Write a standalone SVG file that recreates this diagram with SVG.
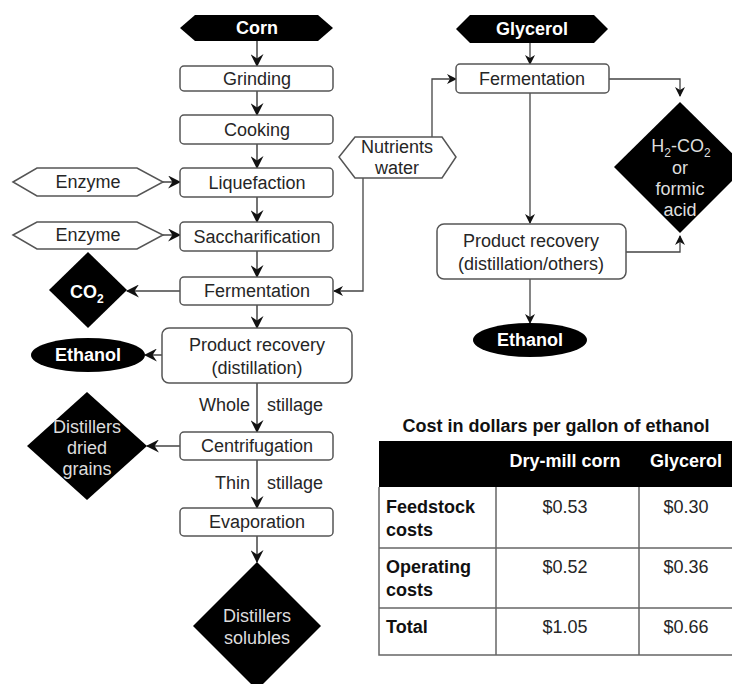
<svg xmlns="http://www.w3.org/2000/svg" width="732" height="684" viewBox="0 0 732 684">
<style>
text{font-family:"Liberation Sans",Arial,sans-serif;font-size:18px;fill:#262626;}
.c{text-anchor:middle;}
.w{fill:#fff;font-weight:bold;}
.g{fill:#ddd;}
.b{font-weight:bold;fill:#111;}
.box{fill:#fff;stroke:#555;stroke-width:1.5;}
.blk{fill:#000;stroke:none;}
.hex{fill:#fff;stroke:#555;stroke-width:1.5;}
.lnb{fill:none;stroke:#444;stroke-width:1.5;marker-end:url(#big);}
.lns{fill:none;stroke:#444;stroke-width:1.3;marker-end:url(#sm);}
.tb{fill:none;stroke:#666;stroke-width:1.5;}
</style>
<defs>
<marker id="big" viewBox="0 0 12 12" refX="11" refY="6" markerWidth="13" markerHeight="13" markerUnits="userSpaceOnUse" orient="auto">
<path d="M0,0 L12,6 L0,12 L4,6 z" fill="#111"/>
</marker>
<marker id="sm" viewBox="0 0 10 10" refX="9" refY="5" markerWidth="10" markerHeight="10" markerUnits="userSpaceOnUse" orient="auto">
<path d="M0,0 L10,5 L0,10 L3,5 z" fill="#111"/>
</marker>
</defs>

<g id="connectors">
<line class="lnb" x1="257" y1="41" x2="257" y2="66"/>
<line class="lnb" x1="257" y1="91" x2="257" y2="115"/>
<line class="lnb" x1="257" y1="144" x2="257" y2="168"/>
<line class="lnb" x1="257" y1="197" x2="257" y2="222"/>
<line class="lnb" x1="257" y1="251" x2="257" y2="277"/>
<line class="lnb" x1="257" y1="305" x2="257" y2="328"/>
<line class="lnb" x1="257" y1="383" x2="257" y2="432"/>
<line class="lnb" x1="257" y1="460" x2="257" y2="508"/>
<line class="lnb" x1="257" y1="536" x2="257" y2="562"/>
<line class="lnb" x1="163" y1="182" x2="180" y2="182"/>
<line class="lnb" x1="163" y1="235" x2="180" y2="235"/>
<line class="lnb" x1="180" y1="291" x2="127" y2="291"/>
<line class="lnb" x1="162" y1="355" x2="145" y2="355"/>
<line class="lnb" x1="180" y1="446" x2="147" y2="446"/>
<polyline class="lns" points="432,137 432,79 456,79"/>
<polyline class="lns" points="363,178 363,291 334,291"/>
<line class="lns" x1="530" y1="43" x2="530" y2="64"/>
<line class="lns" x1="530" y1="93" x2="530" y2="223"/>
<line class="lns" x1="530" y1="279" x2="530" y2="323"/>
<polyline class="lns" points="609,79 680,79 680,96"/>
<polyline class="lns" points="626,252 680,252 680,236"/>
</g>

<g id="corn">
<polygon class="blk" points="180,28 195,15 318,15 333,28 318,41 195,41"/>
<text class="c w" x="257" y="34">Corn</text>
</g>
<g id="grinding">
<rect class="box" x="180" y="66" width="153" height="25" rx="4"/>
<text class="c" x="257" y="85">Grinding</text>
</g>
<g id="cooking">
<rect class="box" x="180" y="115" width="153" height="29" rx="4"/>
<text class="c" x="257" y="136">Cooking</text>
</g>
<g id="liquefaction">
<rect class="box" x="180" y="168" width="153" height="29" rx="4"/>
<text class="c" x="257" y="189">Liquefaction</text>
</g>
<g id="enzyme1">
<polygon class="hex" points="13,182 37,168 137,168 163,182 137,196 37,196"/>
<text class="c" x="88" y="188">Enzyme</text>
</g>
<g id="saccharification">
<rect class="box" x="180" y="222" width="153" height="29" rx="4"/>
<text class="c" x="257" y="243">Saccharification</text>
</g>
<g id="enzyme2">
<polygon class="hex" points="13,235 37,222 137,222 163,235 137,249 37,249"/>
<text class="c" x="88" y="241">Enzyme</text>
</g>
<g id="fermentation1">
<rect class="box" x="180" y="277" width="153" height="28" rx="4"/>
<text class="c" x="257" y="297">Fermentation</text>
</g>
<g id="co2">
<polygon class="blk" points="88,252 127,290 88,328 49,290"/>
<text class="w" x="70" y="298">CO<tspan font-size="12" dy="5">2</tspan></text>
</g>
<g id="recovery1">
<rect class="box" x="162" y="328" width="190" height="55" rx="7"/>
<text class="c" x="257" y="351">Product recovery</text>
<text class="c" x="257" y="374">(distillation)</text>
</g>
<g id="ethanol1">
<ellipse class="blk" cx="88" cy="355" rx="57" ry="17"/>
<text class="c w" x="88" y="361">Ethanol</text>
</g>
<g id="whole-stillage">
<text x="250" y="411" text-anchor="end">Whole</text>
<text x="267" y="411">stillage</text>
</g>
<g id="centrifugation">
<rect class="box" x="180" y="432" width="153" height="28" rx="4"/>
<text class="c" x="257" y="452">Centrifugation</text>
</g>
<g id="ddg">
<polygon class="blk" points="87,392 147,446 87,500 27,446"/>
<text class="c g" x="87" y="433">Distillers</text>
<text class="c g" x="87" y="454">dried</text>
<text class="c g" x="87" y="475">grains</text>
</g>
<g id="thin-stillage">
<text x="250" y="489" text-anchor="end">Thin</text>
<text x="267" y="489">stillage</text>
</g>
<g id="evaporation">
<rect class="box" x="180" y="508" width="153" height="28" rx="4"/>
<text class="c" x="257" y="528">Evaporation</text>
</g>
<g id="solubles">
<polygon class="blk" points="257,562 321,626 257,690 193,626"/>
<text class="c g" x="257" y="622">Distillers</text>
<text class="c g" x="257" y="644">solubles</text>
</g>

<g id="glycerol">
<polygon class="blk" points="456,29 470,15 594,15 608,29 594,43 470,43"/>
<text class="c w" x="532" y="35">Glycerol</text>
</g>
<g id="fermentation2">
<rect class="box" x="456" y="64" width="153" height="29" rx="4"/>
<text class="c" x="532" y="85">Fermentation</text>
</g>
<g id="nutrients">
<polygon class="hex" points="339,157 355,137 442,137 456,157 442,178 355,178"/>
<text class="c" x="397" y="153">Nutrients</text>
<text class="c" x="397" y="174">water</text>
</g>
<g id="h2co2">
<polygon class="blk" points="680,102 746,167 680,233 614,167"/>
<text class="c g" x="681" y="152">H<tspan font-size="12" dy="5">2</tspan><tspan dy="-5">-CO</tspan><tspan font-size="12" dy="5">2</tspan></text>
<text class="c g" x="680" y="174">or</text>
<text class="c g" x="680" y="195">formic</text>
<text class="c g" x="680" y="216">acid</text>
</g>
<g id="recovery2">
<rect class="box" x="437" y="224" width="189" height="55" rx="7"/>
<text class="c" x="531" y="247">Product recovery</text>
<text class="c" x="531" y="270">(distillation/others)</text>
</g>
<g id="ethanol2">
<ellipse class="blk" cx="530" cy="340" rx="57" ry="17"/>
<text class="c w" x="530" y="346">Ethanol</text>
</g>

<g id="cost-table">
<text class="c b" x="556" y="432">Cost in dollars per gallon of ethanol</text>
<rect x="379" y="441" width="360" height="46" fill="#000"/>
<text class="c w" x="565" y="467">Dry-mill corn</text>
<text class="c w" x="686" y="467">Glycerol</text>
<polyline class="tb" points="740,655 379,655 379,487"/>
<line class="tb" x1="379" y1="548" x2="740" y2="548"/>
<line class="tb" x1="379" y1="608" x2="740" y2="608"/>
<line class="tb" x1="496" y1="487" x2="496" y2="655"/>
<line class="tb" x1="639" y1="487" x2="639" y2="655"/>
<text class="b" x="386" y="513">Feedstock</text>
<text class="b" x="386" y="536">costs</text>
<text class="b" x="386" y="573">Operating</text>
<text class="b" x="386" y="596">costs</text>
<text class="b" x="386" y="633">Total</text>
<text class="c" x="565" y="513">$0.53</text>
<text class="c" x="686" y="513">$0.30</text>
<text class="c" x="565" y="573">$0.52</text>
<text class="c" x="686" y="573">$0.36</text>
<text class="c" x="565" y="633">$1.05</text>
<text class="c" x="686" y="633">$0.66</text>
</g>
</svg>
